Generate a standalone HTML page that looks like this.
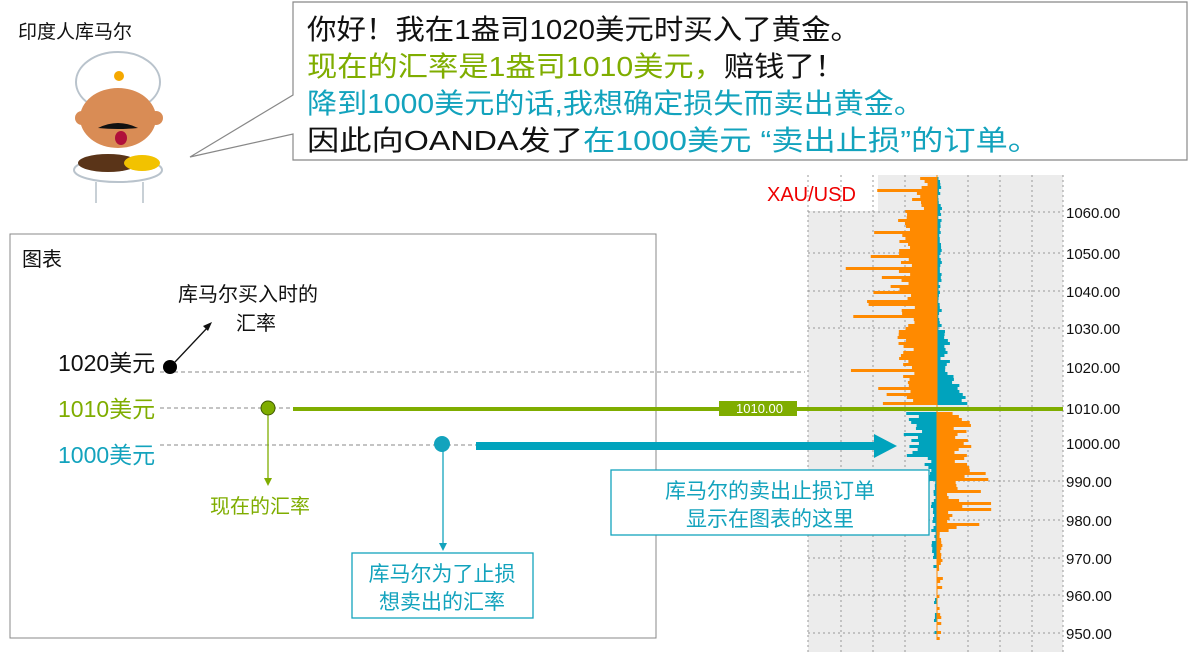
<!DOCTYPE html>
<html><head><meta charset="utf-8"><style>
body{margin:0;background:#fff;width:1202px;height:665px;overflow:hidden;font-family:"Liberation Sans","Noto Sans CJK SC",sans-serif}
svg text{font-family:"Liberation Sans","Noto Sans CJK SC",sans-serif}
</style></head><body>
<svg id="s" width="1202" height="665" xmlns="http://www.w3.org/2000/svg">
<text x="18" y="38" font-size="19" fill="#111">印度人库马尔</text>
<g>
<ellipse cx="118" cy="82" rx="42" ry="30" fill="#fff" stroke="#b9c3cc" stroke-width="2"/>
<circle cx="119" cy="76" r="5" fill="#f5a800"/>
<ellipse cx="118" cy="118" rx="38" ry="30" fill="#d98c55"/>
<circle cx="82" cy="118" r="7" fill="#d98c55"/><circle cx="156" cy="118" r="7" fill="#d98c55"/>
<path d="M98 128 q20 -10 40 0 q-20 2 -40 0z" fill="#111"/>
<ellipse cx="121" cy="138" rx="6" ry="7" fill="#b0103a"/>
<ellipse cx="118" cy="170" rx="44" ry="12" fill="#fff" stroke="#b9c3cc" stroke-width="2"/>
<ellipse cx="108" cy="163" rx="30" ry="9" fill="#5a3418"/>
<ellipse cx="142" cy="163" rx="18" ry="8" fill="#f2c200"/>
<line x1="96" y1="182" x2="96" y2="203" stroke="#c8d0d6" stroke-width="2"/><line x1="143" y1="182" x2="143" y2="203" stroke="#c8d0d6" stroke-width="2"/>
</g>
<path d="M293 2 H1187 V160 H293 V134 L190 157 L293 95 Z" fill="#fff" stroke="#888" stroke-width="1.2"/>
<g font-size="28">
<text x="307" y="39" fill="#111" textLength="553" lengthAdjust="spacingAndGlyphs">你好！我在1盎司1020美元时买入了黄金。</text>
<text x="307" y="76" textLength="538" lengthAdjust="spacingAndGlyphs"><tspan fill="#7fad00">现在的汇率是1盎司1010美元，</tspan><tspan fill="#111">赔钱了！</tspan></text>
<text x="307" y="113" fill="#13a3bd" textLength="617" lengthAdjust="spacingAndGlyphs">降到1000美元的话,我想确定损失而卖出黄金。</text>
<text x="307" y="150" textLength="733" lengthAdjust="spacingAndGlyphs"><tspan fill="#111">因此向OANDA发了</tspan><tspan fill="#13a3bd">在1000美元 “卖出止损”的订单。</tspan></text>
</g>
<rect x="808" y="175" width="255" height="477" fill="#ececec"/>
<rect x="760" y="175" width="118" height="36" fill="#fff"/>
<text x="767" y="201" font-size="20" fill="#e00">XAU/USD</text>
<g id="grid" stroke="#999" stroke-width="1" stroke-dasharray="2,3"></g>
<g id="bars"></g>
<g id="labels" font-size="15" fill="#111"></g>
<rect x="10" y="234" width="646" height="404" fill="#fff" stroke="#888" stroke-width="1"/>
<text x="22" y="266" font-size="20" fill="#111">图表</text>
<text x="178" y="301" font-size="20" fill="#111">库马尔买入时的</text>
<text x="236" y="330" font-size="20" fill="#111">汇率</text>
<line x1="160" y1="372" x2="805" y2="372" stroke="#888" stroke-dasharray="4,3"/>
<line x1="160" y1="408" x2="293" y2="408" stroke="#888" stroke-dasharray="4,3"/>
<line x1="160" y1="445" x2="476" y2="445" stroke="#888" stroke-dasharray="4,3"/>
<text x="58" y="371" font-size="23" fill="#111">1020美元</text>
<text x="58" y="417" font-size="23" fill="#7fad00">1010美元</text>
<text x="58" y="463" font-size="23" fill="#13a3bd">1000美元</text>
<line x1="175" y1="362" x2="208" y2="327" stroke="#111" stroke-width="1.3"/>
<polygon points="212,322 203,326 208,331" fill="#111"/>
<circle cx="170" cy="367" r="7" fill="#000"/>
<line x1="293" y1="409" x2="1063" y2="409" stroke="#7fad00" stroke-width="4"/>
<rect x="719" y="401" width="78" height="15" fill="#7fad00"/>
<text x="736" y="413" font-size="13" fill="#fff">1010.00</text>
<line x1="268" y1="410" x2="268" y2="478" stroke="#7fad00" stroke-width="1.3"/>
<polygon points="264,478 272,478 268,486" fill="#7fad00"/>
<circle cx="268" cy="408" r="7" fill="#7fad00" stroke="#3f5a00" stroke-width="1"/>
<text x="210" y="513" font-size="20" fill="#7fad00">现在的汇率</text>
<line x1="443" y1="446" x2="443" y2="543" stroke="#13a3bd" stroke-width="1.3"/>
<polygon points="439,543 447,543 443,551" fill="#13a3bd"/>
<circle cx="442" cy="444" r="8" fill="#13a3bd"/>
<rect x="476" y="442" width="400" height="8" fill="#00a3bd"/>
<polygon points="874,434 874,458 897,446" fill="#00a3bd"/>
<rect x="352" y="553" width="181" height="65" fill="#fff" stroke="#13a3bd" stroke-width="1.3"/>
<text x="442" y="581" font-size="21" fill="#13a3bd" text-anchor="middle">库马尔为了止损</text>
<text x="442" y="609" font-size="21" fill="#13a3bd" text-anchor="middle">想卖出的汇率</text>
<rect x="611" y="470" width="318" height="65" fill="#fff" stroke="#13a3bd" stroke-width="1.3"/>
<text x="770" y="498" font-size="21" fill="#13a3bd" text-anchor="middle">库马尔的卖出止损订单</text>
<text x="770" y="526" font-size="21" fill="#13a3bd" text-anchor="middle">显示在图表的这里</text>
</svg>
<script>
var NS="http://www.w3.org/2000/svg";
function el(p,t,a){var e=document.createElementNS(NS,t);for(var k in a)e.setAttribute(k,a[k]);document.getElementById(p).appendChild(e);return e;}
var xs=[808,841,873,905,968,1000,1032,1063];
xs.forEach(function(x){el("grid","line",{x1:x,y1:175,x2:x,y2:652});});
var vals=[1060,1050,1040,1030,1020,1010,1000,990,980,970,960,950];
var ys=[212,253,291,328,367,408,443,481,520,558,595,633];
vals.forEach(function(v,i){
 if(v!=1010&&v!=1020&&v!=1000) el("grid","line",{x1:808,y1:ys[i],x2:1063,y2:ys[i]});
 var t=el("labels","text",{x:1066,y:ys[i]+6});t.textContent=v.toFixed(2);
});
var seed=7;function r(){seed=(seed*9301+49297)%233280;return seed/233280;}
var cx=937;
function bar(x,y,w,c){el("bars","rect",{x:x,y:y,width:Math.max(w,1),height:3,fill:c});}
for(var y=177;y<405;y+=3){
 var base=y<210?8+r()*18:(y<300?25+r()*15:22+r()*18);
 if(r()<0.12) base+=20+r()*40;
 bar(cx-base,y,base,"#ff8a00");
 var t=y<330?1+r()*4:(y<370?3+r()*10:8+((y-370)/35)*18+r()*8);
 bar(cx,y,t,"#00a3bd");
}
for(var y=412;y<640;y+=3){
 var tl=y<455?12+r()*22:(y<480?5+r()*8:(y<555?1+r()*5:(r()<0.3?2+r()*4:0)));
 if(tl>0)bar(cx-tl,y,tl,"#00a3bd");
 var o=y<475?15+r()*20:(y<530?10+r()*18:(y<560?2+r()*5:(r()<0.4?2+r()*4:0)));
 if(r()<0.12&&y<545) o+=20+r()*25;
 if(o>0)bar(cx,y,o,"#ff8a00");
}
el("bars","line",{x1:cx,y1:175,x2:cx,y2:640,stroke:"#ff8a00","stroke-width":1});
</script>
</body></html>
